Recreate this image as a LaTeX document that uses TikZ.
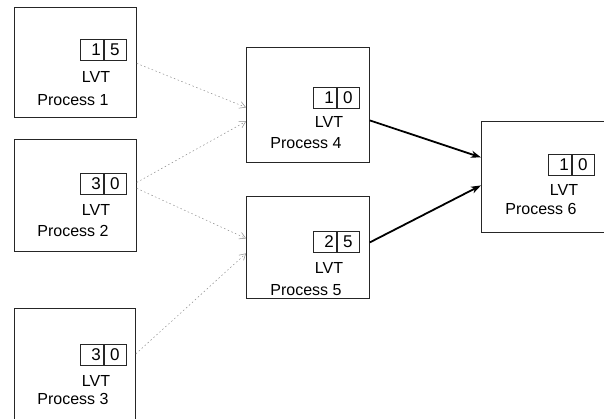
\documentclass[tikz,border=0pt]{standalone}
\usepackage{fontspec}
\setmainfont{Liberation Sans}
\usetikzlibrary{arrows.meta}

\tikzset{
  procbox/.style={draw=black!85, line width=0.8pt, rectangle, minimum width=#1, anchor=north west, inner sep=0pt},
  cell/.style={draw=black!85, line width=0.6pt, rectangle, minimum height=21pt, inner sep=0pt, anchor=north west, font=\fontsize{17}{17}\selectfont},
  lcell/.style={cell, minimum width=23pt, text width=18pt, align=right},
  rcell/.style={cell, minimum width=22pt},
  lbl/.style={inner sep=0pt, font=\fontsize{16}{16}\selectfont},
  msg/.style={draw=black!45, line width=0.5pt, dash pattern=on 1.5pt off 2.5pt,
              -{Straight Barb[length=6pt,width=7pt,open]}},
  fwd/.style={draw=black, line width=1.8pt, -{Stealth[length=10pt,width=7pt,inset=3pt]}}
}

\begin{document}
\begin{tikzpicture}[x=1pt,y=-1pt]
\useasboundingbox (0,0) rectangle (604,418);

% process boxes
\node[procbox=122pt, minimum height=110pt] (p1) at (14,7) {};
\node[procbox=122pt, minimum height=112pt] (p2) at (14,139) {};
\node[procbox=121pt, minimum height=115pt] (p3) at (14,308) {};
\node[procbox=123pt, minimum height=115pt] (p4) at (246,47) {};
\node[procbox=123pt, minimum height=102pt] (p5) at (246,196) {};
\node[procbox=123pt, minimum height=111pt] (p6) at (481,121) {};

% LVT registers: two cells each
\node[lcell] (r1a) at (80,39) {1};
\node[rcell] (r1b) at (r1a.north east) {5};
\node[lcell] (r2a) at (80,173) {3};
\node[rcell] (r2b) at (r2a.north east) {0};
\node[lcell] (r3a) at (80,344) {3};
\node[rcell] (r3b) at (r3a.north east) {0};
\node[lcell] (r4a) at (313,87) {1};
\node[rcell] (r4b) at (r4a.north east) {0};
\node[lcell] (r5a) at (313,231) {2};
\node[rcell] (r5b) at (r5a.north east) {5};
\node[lcell] (r6a) at (548,154) {1};
\node[rcell] (r6b) at (r6a.north east) {0};

% captions
\node[lbl] (l1) at (96,77) {LVT};
\node[lbl] (n1) at (73,100) {Process 1};
\node[lbl] (l2) at (96,210) {LVT};
\node[lbl] (n2) at (73,231) {Process 2};
\node[lbl] (l3) at (96,381) {LVT};
\node[lbl] (n3) at (73,399) {Process 3};
\node[lbl] (l4) at (329,122) {LVT};
\node[lbl] (n4) at (306,143) {Process 4};
\node[lbl] (l5) at (329,268) {LVT};
\node[lbl] (n5) at (306,290) {Process 5};
\node[lbl] (l6) at (564,190) {LVT};
\node[lbl] (n6) at (541,209) {Process 6};

% messages between processes
\draw[msg] ([yshift=-1pt]p1.east) -- ([yshift=-2.5pt]p4.west);
\draw[msg] ([yshift=13pt]p2.east) -- ([yshift=-16.5pt]p4.west);
\draw[msg] ([yshift=7pt]p2.east) -- ([yshift=9pt]p5.west);
\draw[msg] ([yshift=12pt]p3.east) -- ([yshift=-6pt]p5.west);

% forwarded LVT values
\draw[fwd] ([yshift=-15.5pt]p4.east) -- ([yshift=19.5pt]p6.west);
\draw[fwd] ([yshift=5pt]p5.east) -- ([yshift=-8.5pt]p6.west);
\end{tikzpicture}
\end{document}
